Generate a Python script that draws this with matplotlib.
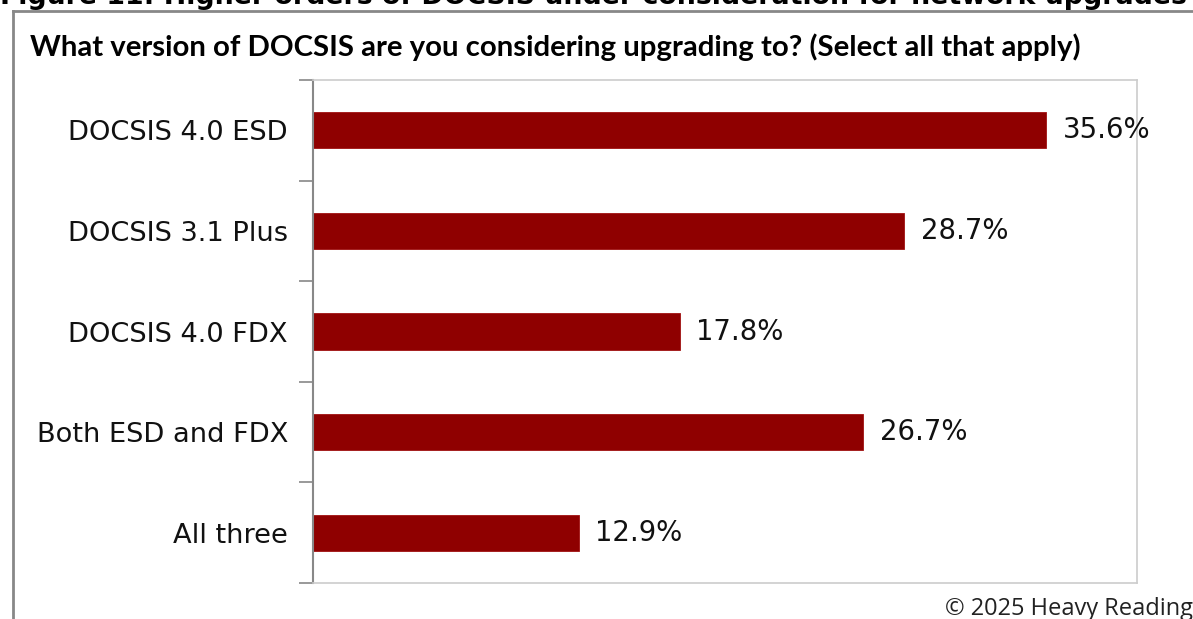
import matplotlib
matplotlib.use("Agg")
import matplotlib.pyplot as plt
from matplotlib.lines import Line2D
import numpy as np

categories = ["DOCSIS 4.0 ESD", "DOCSIS 3.1 Plus", "DOCSIS 4.0 FDX", "Both ESD and FDX", "All three"]
values = [35.6, 28.7, 17.8, 26.7, 12.9]
value_labels = ["35.6%", "28.7%", "17.8%", "26.7%", "12.9%"]

fig_title = "Figure 11: Higher orders of DOCSIS under consideration for network upgrades"
question = "What version of DOCSIS are you considering upgrading to? (Select all that apply)"
credit = "© 2025 Heavy Reading"

W, H = 1193, 619
fig = plt.figure(figsize=(W / 100, H / 100), dpi=100)
fig.patch.set_facecolor("white")

ax = fig.add_axes([313 / W, 1 - 583 / H, (1137 - 313) / W, (583 - 80) / H])
y = np.arange(len(categories))
ax.barh(y, values, height=0.36, color="#8f0000", edgecolor="#a01010", linewidth=0.6)

ax.set_xlim(0, 40)
ax.set_ylim(len(categories) - 0.5, -0.5)
ax.set_xticks([])
ax.set_yticks(y)
ax.set_yticklabels(categories, fontsize=19.6, family="DejaVu Sans", color="#111111")
ax.tick_params(axis="y", which="major", length=0, pad=18)
ax.set_yticks(np.arange(-0.5, len(categories) + 0.5, 1.0), minor=True)
ax.tick_params(axis="y", which="minor", length=10, width=1.2, color="#888888")

for sp in ("top", "right", "bottom"):
    ax.spines[sp].set_color("#cccccc")
    ax.spines[sp].set_linewidth(1.2)
ax.spines["left"].set_color("#888888")
ax.spines["left"].set_linewidth(1.5)

for yi, v, lab in zip(y, values, value_labels):
    ax.annotate(lab, (v, yi), xytext=(12, 0), textcoords="offset points",
                va="center", ha="left", fontsize=19.8, family="DejaVu Sans", color="#111111")

# outer frame (top and left edges)
fig.add_artist(Line2D([12.5 / W, 1.0], [1 - 11 / H, 1 - 11 / H], transform=fig.transFigure,
                      color="#888888", linewidth=2))
fig.add_artist(Line2D([12.5 / W, 12.5 / W], [0, 1 - 11 / H], transform=fig.transFigure,
                      color="#888888", linewidth=2))

fig.text(0 / W, 1 - 4 / H, fig_title, ha="left", va="baseline", fontsize=19.3,
         fontweight="bold", family="DejaVu Sans", color="black")
fig.text(30 / W, 1 - 56 / H, question, ha="left", va="baseline", fontsize=21.2,
         fontweight="bold", family=["Lato", "DejaVu Sans"], color="black")
fig.text(945 / W, 1 - 615 / H, credit, ha="left", va="baseline", fontsize=17,
         family=["Open Sans", "DejaVu Sans"], color="#222222")

fig.savefig("out.png", dpi=100, facecolor="white")
